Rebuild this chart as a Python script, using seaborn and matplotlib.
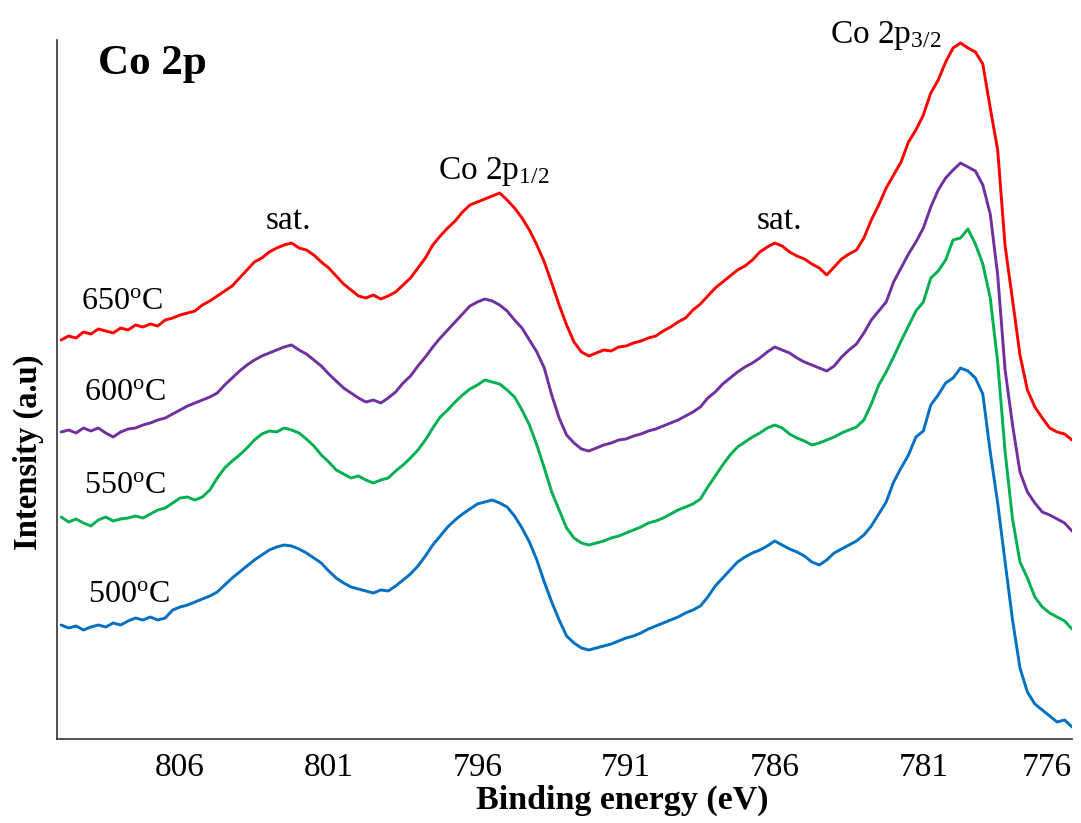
import numpy as np
import pandas as pd
import matplotlib
matplotlib.use("Agg")
import matplotlib.pyplot as plt
import seaborn as sns

# ---------------- data ----------------
energy = np.linspace(810.0, 776.0, 137)  # binding energy grid (eV), 0.25 eV step

samples = ["650°C", "600°C", "550°C", "500°C"]
colors = ["#FF0000", "#7030A0", "#00B050", "#0070C0"]

int_650 = [
    399, 403, 401, 407, 405, 410, 408, 406, 411, 409,
    414, 412, 415, 413, 419, 421, 424, 426, 428, 434,
    438, 443, 448, 453, 461, 469, 477, 481, 487, 491,
    494, 496, 491, 489, 484, 477, 471, 463, 455, 449,
    443, 441, 444, 440, 443, 447, 454, 461, 471, 481,
    494, 503, 511, 518, 527, 534, 537, 540, 543, 546,
    539, 531, 521, 509, 494, 477, 456, 434, 414, 397,
    387, 383, 386, 389, 388, 392, 393, 396, 398, 401,
    403, 408, 412, 417, 421, 429, 435, 443, 451, 457,
    463, 469, 473, 479, 487, 492, 496, 493, 487, 483,
    480, 475, 471, 464, 472, 480, 485, 489, 501, 519,
    534, 551, 564, 577, 597, 609, 624, 646, 659, 677,
    691, 696, 691, 687, 675, 631, 589, 493, 439, 384,
    349, 332, 321, 311, 307, 305, 299,
]
int_600 = [
    307, 309, 306, 311, 308, 311, 306, 302, 307, 310,
    311, 314, 316, 319, 321, 325, 329, 333, 336, 339,
    342, 346, 354, 361, 368, 374, 379, 383, 386, 389,
    392, 394, 389, 385, 379, 373, 365, 358, 351, 346,
    341, 337, 339, 336, 341, 347, 356, 363, 373, 382,
    392, 401, 409, 417, 425, 433, 437, 440, 438, 434,
    428, 419, 411, 399, 387, 371, 344, 321, 304, 296,
    290, 288, 291, 294, 296, 299, 300, 303, 305, 308,
    310, 313, 316, 319, 323, 327, 332, 341, 347, 355,
    361, 367, 372, 376, 381, 387, 392, 389, 386, 381,
    377, 374, 371, 368, 373, 382, 389, 395, 406, 419,
    428, 437, 457, 471, 485, 497, 511, 532, 549, 561,
    569, 576, 572, 568, 554, 525, 464, 369, 314, 267,
    247, 236, 227, 224, 220, 216, 208,
]
int_550 = [
    222, 217, 220, 216, 213, 219, 222, 218, 220, 221,
    223, 221, 225, 229, 231, 236, 241, 242, 239, 242,
    249, 261, 271, 278, 284, 291, 299, 305, 308, 307,
    311, 309, 306, 300, 293, 284, 277, 269, 265, 261,
    263, 259, 256, 259, 261, 268, 274, 281, 289, 299,
    311, 322, 329, 337, 344, 350, 354, 359, 357, 355,
    349, 342, 329, 314, 294, 271, 247, 229, 211, 201,
    196, 194, 196, 198, 201, 203, 206, 209, 212, 216,
    218, 221, 225, 229, 232, 235, 240, 252, 263, 274,
    284, 292, 297, 302, 306, 311, 314, 311, 305, 301,
    298, 294, 296, 299, 302, 306, 309, 312, 319, 335,
    354, 367, 382, 398, 413, 428, 437, 461, 468, 479,
    499, 501, 510, 495, 475, 441, 377, 287, 220, 177,
    161, 142, 132, 126, 122, 118, 110,
]
int_500 = [
    114, 111, 113, 109, 112, 114, 112, 116, 114, 118,
    121, 119, 122, 119, 121, 129, 132, 134, 137, 140,
    143, 147, 154, 161, 167, 173, 179, 184, 189, 192,
    194, 193, 190, 186, 181, 176, 168, 161, 156, 152,
    150, 148, 146, 149, 148, 153, 159, 165, 173, 183,
    194, 203, 212, 219, 225, 230, 235, 237, 239, 236,
    232, 223, 211, 197, 179, 157, 137, 119, 103, 96,
    91, 89, 91, 93, 95, 98, 101, 103, 106, 110,
    113, 116, 119, 122, 126, 129, 133, 142, 153, 161,
    169, 177, 182, 186, 189, 193, 198, 194, 190, 187,
    183, 177, 174, 179, 186, 190, 194, 198, 204, 213,
    225, 237, 257, 271, 284, 302, 308, 334, 344, 356,
    361, 371, 368, 361, 345, 287, 236, 177, 119, 71,
    47, 35, 29, 23, 17, 19, 12,
]

x_ticks = [806, 801, 796, 791, 786, 781, 776]
x_tick_labels = ["806", "801", "796", "791", "786", "781", "776"]

# ---------------- styling ----------------
sns.set_style("white")
plt.rcParams["font.family"] = ["Liberation Serif", "DejaVu Serif"]
plt.rcParams["mathtext.fontset"] = "custom"
plt.rcParams["mathtext.rm"] = "Liberation Serif"
plt.rcParams["mathtext.it"] = "Liberation Serif:italic"
plt.rcParams["mathtext.bf"] = "Liberation Serif:bold"
plt.rcParams["text.color"] = "black"
plt.rcParams["axes.labelcolor"] = "black"
plt.rcParams["xtick.color"] = "black"
plt.rcParams["xtick.labelcolor"] = "black"

df = pd.DataFrame({
    "energy": np.tile(energy, 4),
    "intensity": np.concatenate([int_650, int_600, int_550, int_500]),
    "sample": np.repeat(samples, len(energy)),
})

fig = plt.figure(figsize=(10.81, 8.23), dpi=100)
ax = fig.add_axes([57 / 1081, 84 / 823, (1072 - 57) / 1081, (739 - 40) / 823])

sns.lineplot(data=df, x="energy", y="intensity", hue="sample",
             palette=dict(zip(samples, colors)), linewidth=2.1,
             legend=False, sort=False, ax=ax)

ax.set_xlim(810.14, 776.0)
ax.set_ylim(0, 699)

for side in ["top", "right"]:
    ax.spines[side].set_visible(False)
for side in ["left", "bottom"]:
    ax.spines[side].set_color("#333333")
    ax.spines[side].set_linewidth(1.2)

ax.set_xticks(x_ticks)
ax.set_xticklabels(x_tick_labels)
ax.set_yticks([])
ax.tick_params(axis="x", direction="out", length=8.5, width=1.1,
               color="#333333", labelcolor="black", pad=1, labelsize=24)
for lbl in ax.get_xticklabels():
    if lbl.get_text() == "776":
        lbl.set_horizontalalignment("right")

ax.set_xlabel("Binding energy (eV)", fontsize=24.5, fontweight="bold", color="black")
ax.xaxis.set_label_coords(0.557, -0.066)
ax.set_ylabel("Intensity (a.u)", fontsize=23.5, fontweight="bold", color="black")
ax.yaxis.set_label_coords(-0.013, 0.41)

# ---------------- annotations ----------------
ax.text(808.76, 665, "Co 2p", fontsize=31, fontweight="bold",
        ha="left", va="baseline")
ax.text(784.14, 696, "Co 2p$_{\\rm 3/2}$", fontsize=24, ha="left", va="baseline")
ax.text(797.33, 560, "Co 2p$_{\\rm 1/2}$", fontsize=24, ha="left", va="baseline")
ax.text(803.11, 510, "sat.", fontsize=24, ha="left", va="baseline")
ax.text(786.60, 510, "sat.", fontsize=24, ha="left", va="baseline")

temp_pos = [(809.33, 430), (809.23, 339), (809.23, 246), (809.10, 137)]
temp_txt = ["650$^{\\rm o}$C", "600$^{\\rm o}$C", "550$^{\\rm o}$C", "500$^{\\rm o}$C"]
for (xe, yi), t in zip(temp_pos, temp_txt):
    ax.text(xe, yi, t, fontsize=23, ha="left", va="baseline")

fig.savefig("out.png", dpi=100)
